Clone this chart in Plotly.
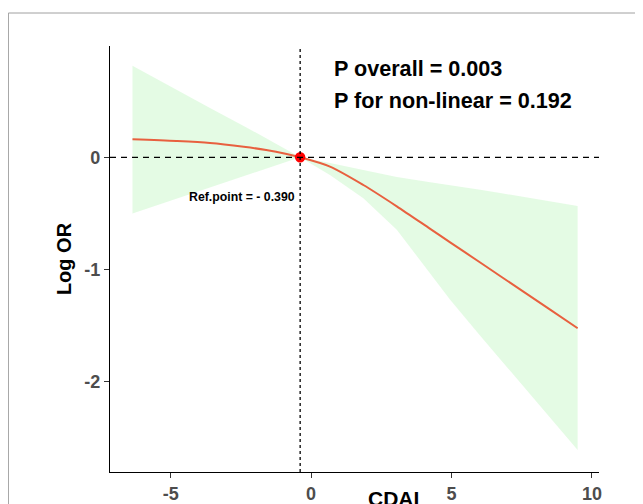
import plotly.graph_objects as go

# Data
cdai = [-6.36, -4.8, -3.6, -2.4, -1.6, -0.87, -0.39, 0.67, 1.86, 3.05, 4.24, 4.95, 6.02, 6.73, 8.51, 9.49]
log_or = [0.160, 0.145, 0.128, 0.094, 0.065, 0.029, 0.0, -0.083, -0.247, -0.437, -0.638, -0.758, -0.938, -1.058, -1.358, -1.524]
ci_upper = [0.816, 0.60, 0.44, 0.28, 0.17, 0.07, 0.0, -0.05, -0.115, -0.175, -0.222, -0.247, -0.29, -0.318, -0.39, -0.434]
ci_lower = [-0.50, -0.37, -0.27, -0.17, -0.10, -0.04, 0.0, -0.158, -0.365, -0.645, -1.04, -1.27, -1.59, -1.80, -2.33, -2.61]
ref_x = -0.39
ref_y = 0.0
x_ticks = [-5, 0, 5, 10]
x_ticklabels = ["-5", "0", "5", "10"]
y_ticks = [-2, -1, 0]
y_ticklabels = ["-2", "-1", "0"]

FONT = "Liberation Sans, Arial"
OFF = 8  # page body margin
W, H = 643 - OFF, 504 - OFF
PL, PR, PT, PB = 110 - OFF, 598.6 - OFF, 46 - OFF, 472 - OFF   # plot-area pixel edges (figure coords)
pw, ph = PR - PL, PB - PT

fig = go.Figure()
fig.add_trace(go.Scatter(x=cdai, y=ci_upper, mode="lines", line=dict(width=0),
                         showlegend=False, hoverinfo="skip"))
fig.add_trace(go.Scatter(x=cdai, y=ci_lower, mode="lines", line=dict(width=0),
                         fill="tonexty", fillcolor="rgba(144,238,144,0.24)",
                         showlegend=False, hoverinfo="skip"))
fig.add_trace(go.Scatter(x=cdai, y=log_or, mode="lines",
                         line=dict(color="#E8603F", width=2, shape="spline", smoothing=0.8),
                         showlegend=False))

# reference lines
fig.add_hline(y=0, line=dict(color="black", width=1.3, dash="6px,5px"))
fig.add_vline(x=ref_x, line=dict(color="black", width=1.3, dash="3px,3px"))

fig.add_trace(go.Scatter(x=[ref_x], y=[ref_y], mode="markers",
                         marker=dict(color="#FF0000", size=10.5), showlegend=False))

# outer frame
fig.add_shape(type="rect", xref="paper", yref="paper",
              x0=(0.5 - PL) / pw, x1=1.4, y0=-0.3, y1=(PB - 5) / ph,
              line=dict(color="#A0A0A0", width=1), fillcolor="rgba(0,0,0,0)", layer="below")

fig.add_annotation(x=ref_x - 0.13, y=-0.35, xref="x", yref="y", text="<b>Ref.point = - 0.390</b>",
                   showarrow=False, xanchor="right", yanchor="middle",
                   font=dict(family=FONT, size=12.3, color="black"))
fig.add_annotation(x=0.76, y=0.793, xref="x", yref="y", text="<b>P overall = 0.003</b>",
                   showarrow=False, xanchor="left", yanchor="middle",
                   font=dict(family=FONT, size=21.6, color="black"))
fig.add_annotation(x=0.76, y=0.51, xref="x", yref="y", text="<b>P for non-linear = 0.192</b>",
                   showarrow=False, xanchor="left", yanchor="middle",
                   font=dict(family=FONT, size=21.6, color="black"))
fig.add_annotation(x=(393 - OFF - PL) / pw, y=(PB - (485 - OFF)) / ph, xref="paper", yref="paper",
                   text="<b>CDAI</b>", showarrow=False, xanchor="center", yanchor="top",
                   font=dict(family=FONT, size=21, color="black"))

fig.update_xaxes(range=[-7.16, 10.25], tickvals=x_ticks, ticktext=[f"<b>{t}</b>" for t in x_ticklabels],
                 ticks="outside", ticklen=5, tickwidth=1.2,
                 tickcolor="#333333", showline=True, linecolor="black", linewidth=1.3,
                 showgrid=False, zeroline=False, automargin=False,
                 tickfont=dict(family=FONT, size=18, color="#4D4D4D"))
fig.update_yaxes(range=[-2.805, 0.992], tickvals=y_ticks, ticktext=[f"<b>{t}</b>" for t in y_ticklabels],
                 ticks="outside", ticklen=5, tickwidth=1.2,
                 tickcolor="#333333", showline=True, linecolor="black", linewidth=1.3,
                 showgrid=False, zeroline=False, automargin=False,
                 tickfont=dict(family=FONT, size=18, color="#4D4D4D"),
                 title=dict(text="<b>Log OR</b>", standoff=7,
                            font=dict(family=FONT, size=20, color="black")))

fig.update_layout(width=W, height=H, margin=dict(l=PL, r=W - PR, t=PT, b=H - PB),
                  plot_bgcolor="white", paper_bgcolor="white")

fig.write_html("out.html")
